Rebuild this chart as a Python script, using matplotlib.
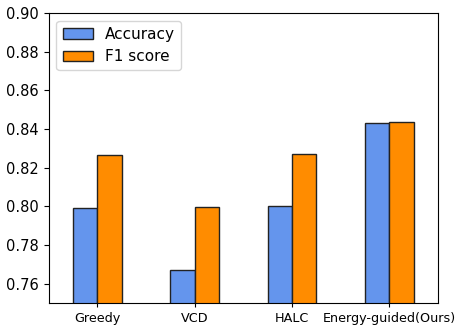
import numpy as np
import matplotlib
matplotlib.use("Agg")
import matplotlib.pyplot as plt

methods = ['Greedy', 'VCD', 'HALC', 'Energy-guided(Ours)']
accuracy = [0.7992, 0.7670, 0.8002, 0.8430]
f1score = [0.8265, 0.7995, 0.8272, 0.8437]

x = np.arange(len(methods))
w = 0.25

fig = plt.figure(figsize=(4.65, 3.31), dpi=100)
ax = fig.add_axes([0.105, 0.085, 0.837, 0.876])

ax.bar(x - w/2, accuracy, w, color='cornflowerblue', edgecolor='#222222', linewidth=1, label='Accuracy')
ax.bar(x + w/2, f1score, w, color='darkorange', edgecolor='#222222', linewidth=1, label='F1 score')

ax.set_xlim(-0.5, 3.5)
ax.set_ylim(0.75, 0.90)
yt = np.arange(0.76, 0.901, 0.02)
ax.set_yticks(yt)
ax.set_yticklabels(['{:.2f}'.format(v) for v in yt], fontsize=10.5)
ax.set_xticks(x)
ax.set_xticklabels(methods, fontsize=9.2)
ax.tick_params(axis='x', length=3)

ax.legend(loc='upper left', fontsize=11)

plt.savefig('out.png', dpi=100)
